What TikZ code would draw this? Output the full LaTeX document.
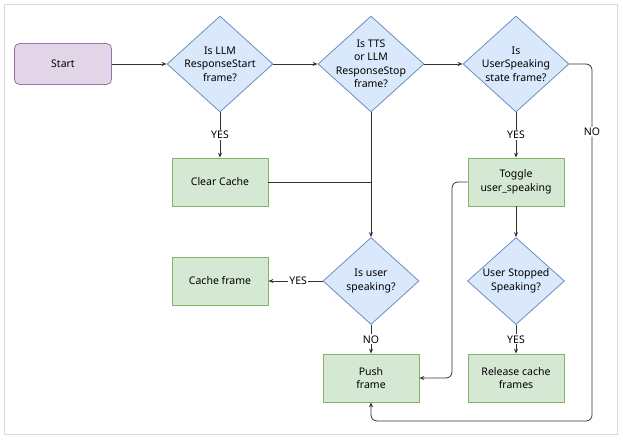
\documentclass[tikz,border=0pt]{standalone}
\usepackage{fontspec}
\setmainfont{Noto Sans}
\usetikzlibrary{shapes.geometric,arrows.meta}
\definecolor{pfill}{HTML}{E1D5E7}\definecolor{pline}{HTML}{9673A6}
\definecolor{bfill}{HTML}{DAE8FC}\definecolor{bline}{HTML}{6C8EBF}
\definecolor{gfill}{HTML}{D5E8D4}\definecolor{gline}{HTML}{82B366}
\begin{document}
\begin{tikzpicture}[x=1pt,y=-1pt,font=\fontsize{10.5}{13.5}\selectfont,
 box/.style={draw=gline,fill=gfill,minimum width=96pt,minimum height=48pt,inner sep=0pt,align=center,line width=0.8pt},
 dia/.style={diamond,draw=bline,fill=bfill,inner sep=0pt,line width=0.8pt},
 arr/.style={draw=black!80,line width=0.8pt,-{Stealth[length=5pt,width=4pt]}},
 ln/.style={draw=black!80,line width=0.8pt},
 lab/.style={fill=white,inner sep=1pt}]
\useasboundingbox (0,0) rectangle (623,439);
\draw[black!15] (4,4) rectangle (617,434);
\node[draw=pline,fill=pfill,rounded corners=5pt,minimum width=97pt,minimum height=41pt,line width=0.8pt] (start) at (63,64) {Start};
\node[dia,minimum width=106pt,minimum height=96pt,label={[align=center]center:Is LLM\\ResponseStart\\frame?}] (d1) at (220,64) {};
\node[dia,minimum width=106pt,minimum height=96pt,label={[align=center]center:Is TTS\\or LLM\\ResponseStop\\frame?}] (d2) at (371,64) {};
\node[dia,minimum width=106pt,minimum height=96pt,label={[align=center]center:Is\\UserSpeaking\\state frame?}] (d3) at (516,64) {};
\node[box] (clear) at (220,182) {Clear Cache};
\node[box] (toggle) at (516,182) {Toggle\\user\_speaking};
\node[dia,minimum width=96pt,minimum height=87pt,label={[align=center]center:Is user\\speaking?}] (d4) at (371,281) {};
\node[box] (cache) at (220,281) {Cache frame};
\node[dia,minimum width=97pt,minimum height=87pt,label={[align=center]center:User Stopped\\Speaking?}] (d5) at (516,281) {};
\node[box] (push) at (371,378) {Push\\frame};
\node[box] (rel) at (516,378) {Release cache\\frames};
\coordinate (j) at (371,182);
\draw[arr] (start) -- (d1);
\draw[arr] (d1) -- (d2);
\draw[arr] (d2) -- (d3);
\draw[arr] (d1) -- node[lab]{YES} (clear);
\draw[ln] (clear) -- (j);
\draw[arr] (d2) -- (d4);
\draw[arr] (d4) -- node[lab,pos=0.45]{YES} (cache);
\draw[arr] (d4) -- node[lab]{NO} (push);
\draw[arr] (d3) -- node[lab]{YES} (toggle);
\draw[arr] (toggle) -- (d5);
\draw[arr] (d5) -- node[lab]{YES} (rel);
\draw[arr,rounded corners=6pt] (toggle.west) -- (452,182) -- (452,378) -- (push.east);
\draw[arr,rounded corners=6pt] (d3.east) -- (592,64) -- node[lab,pos=0.19]{NO} (592,421) -- (371,421) -- (push.south);
\end{tikzpicture}
\end{document}
